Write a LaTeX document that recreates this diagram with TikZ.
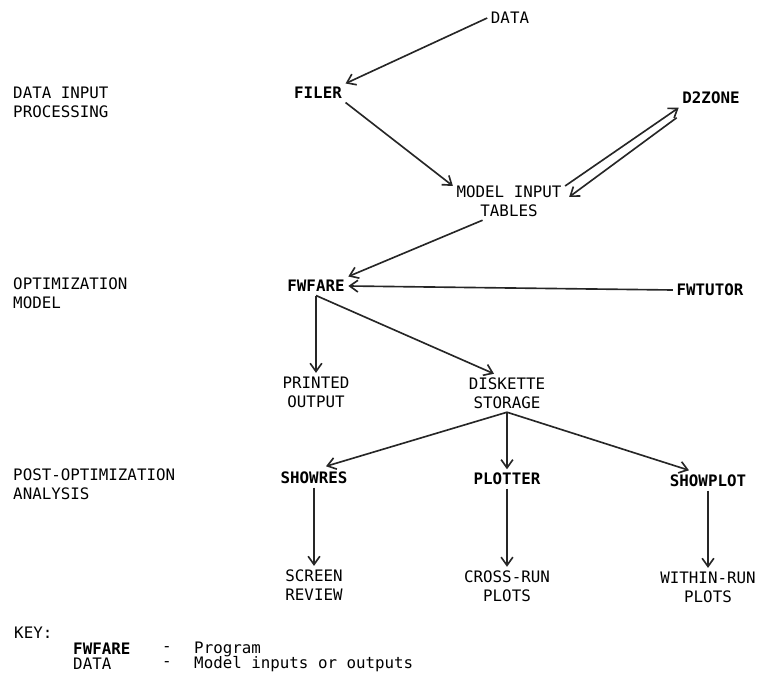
\documentclass[tikz,border=0pt]{standalone}
\usepackage{fontspec}
\setmonofont{DejaVu Sans Mono}
\usetikzlibrary{arrows.meta}

\begin{document}
\begin{tikzpicture}[
  x=0.03cm, y=-0.03cm,
  every node/.style={font=\fontsize{13.5}{16.2}\selectfont\ttfamily, inner sep=3pt},
  item/.style={align=center},
  prog/.style={font=\fontsize{13.5}{16.2}\selectfont\ttfamily\bfseries},
  side/.style={anchor=west, align=left, inner sep=0pt},
  arr/.style={-{Straight Barb[length=7pt, width=10pt]}, line width=1.4pt, black!85}
]
  \useasboundingbox (0,0) rectangle (757,676);

  % stage labels
  \node[side] (lblin)   at (13,102) {DATA INPUT\\PROCESSING};
  \node[side] (lblopt)  at (13,293) {OPTIMIZATION\\MODEL};
  \node[side] (lblpost) at (13,484) {POST-OPTIMIZATION\\ANALYSIS};

  % programs and data
  \node[item] (data)      at (510,18)  {DATA};
  \node[prog] (filer)     at (318,93)  {FILER};
  \node[prog] (d2zone)    at (711,98)  {D2ZONE};
  \node[item] (mit)       at (509,201) {MODEL INPUT\\TABLES};
  \node[prog] (fwfare)    at (316,286) {FWFARE};
  \node[prog] (fwtutor)   at (710,290) {FWTUTOR};
  \node[item] (printed)   at (316,392) {PRINTED\\OUTPUT};
  \node[item] (diskette)  at (507,393) {DISKETTE\\STORAGE};
  \node[prog] (showres)   at (314,478) {SHOWRES};
  \node[prog] (plotter)   at (507,479) {PLOTTER};
  \node[prog] (showplot)  at (708,481) {SHOWPLOT};
  \node[item] (screen)    at (314,585) {SCREEN\\REVIEW};
  \node[item] (crossrun)  at (507,586) {CROSS-RUN\\PLOTS};
  \node[item] (withinrun) at (708,587) {WITHIN-RUN\\PLOTS};

  \draw[arr] (data.west) -- (filer.north east);
  \draw[arr] (filer.south east) -- (mit.165);
  \draw[arr] (mit.15) -- (d2zone.south west);
  \draw[arr] ([shift={(-2,10)}]d2zone.south west) -- ([shift={(4,-4)}]mit.east);
  \draw[arr] (mit.216) -- (fwfare.north east);
  \draw[arr] (fwtutor.west) -- (fwfare.east);
  \draw[arr] (fwfare.south) -- (printed.north);
  \draw[arr] (fwfare.south) -- ([shift={(-13,0)}]diskette.north);
  \draw[arr] (diskette.south) -- ([shift={(12,-2)}]showres.north);
  \draw[arr] (diskette.south) -- (plotter.north);
  \draw[arr] (diskette.south) -- ([shift={(-19,-1)}]showplot.north);
  \draw[arr] (showres.south) -- (screen.north);
  \draw[arr] (plotter.south) -- (crossrun.north);
  \draw[arr] (showplot.south) -- (withinrun.north);

  % key
  \node[side] (key)      at (14,633)  {KEY:};
  \node[side, prog, inner sep=0pt] (keyprog) at (73,649) {FWFARE};
  \node[side] (keydash1) at (162,649) {-};
  \node[side] (keytxt1)  at (194,649) {Program};
  \node[side] (keydata)  at (73,664)  {DATA};
  \node[side] (keydash2) at (162,664) {-};
  \node[side] (keytxt2)  at (194,664) {Model inputs or outputs};
\end{tikzpicture}
\end{document}
